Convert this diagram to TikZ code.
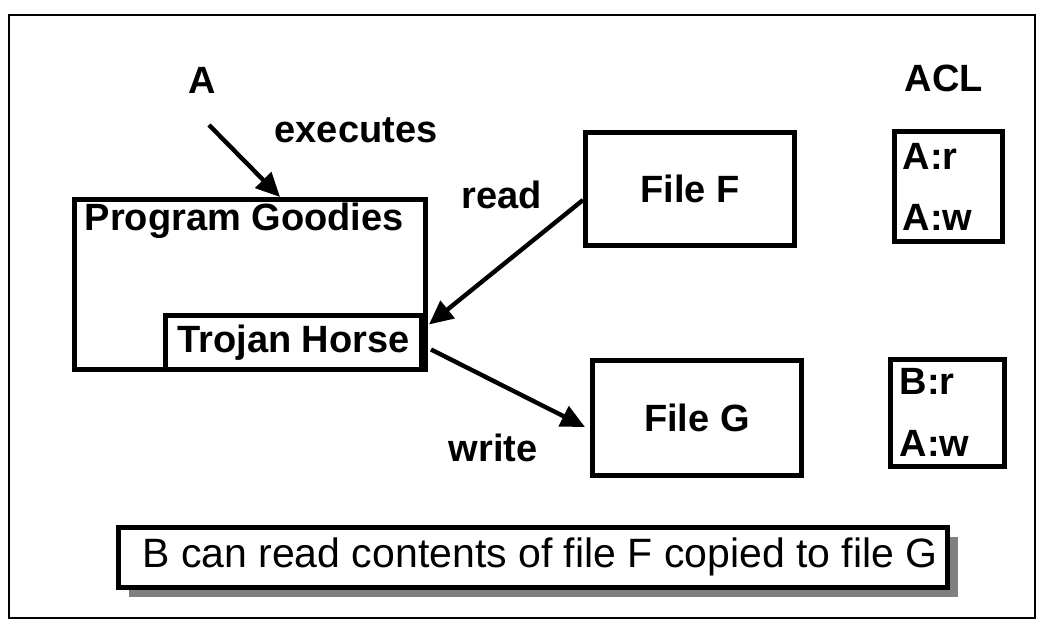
\documentclass[tikz,border=0pt]{standalone}
\usepackage{fontspec}
\setmainfont{Liberation Sans}
\usetikzlibrary{arrows.meta,shadows}

\begin{document}
\begin{tikzpicture}[x=0.5pt,y=-0.5pt,thick,
    bigfont/.style={font=\fontsize{19}{22}\selectfont\bfseries},
    word/.style={bigfont,inner sep=0pt},
    box/.style={draw,line width=2.5pt,inner sep=0pt},
    arr/.style={line width=2.2pt,-{Triangle[length=12pt,width=11pt]}}]
          %frame
          \useasboundingbox (0,0) rectangle (1046,630);
          \draw[line width=1pt] (9,15) rectangle (1035,618);

          %program and trojan horse
          \node[box,minimum width=175.5pt,minimum height=85pt] (goodies) at (250,284.5) {};
          \node[word,anchor=west] (goodiesText) at (84,221) {Program Goodies};
          \node[box,fill=white,minimum width=128pt,minimum height=27pt,bigfont] (trojan) at (293.5,342.5) {Trojan Horse};

          %files
          \node[box,minimum width=104.5pt,minimum height=56.5pt,bigfont] (fileF) at (690,189) {File F};
          \node[box,minimum width=104.5pt,minimum height=57.5pt,bigfont] (fileG) at (697,418) {File G};

          %acl
          \node[word] (acl) at (944,78) {ACL};
          \node[box,minimum width=54pt,minimum height=55pt] (aclF) at (948.5,186.5) {};
          \node[word,anchor=west] (aclFr) at (902,156) {A:r};
          \node[word,anchor=west] (aclFw) at (902,217) {A:w};
          \node[box,minimum width=57pt,minimum height=53.5pt] (aclG) at (947.5,413) {};
          \node[word,anchor=west] (aclGr) at (899,381) {B:r};
          \node[word,anchor=west] (aclGw) at (899,443) {A:w};

          %user A
          \node[word] (userA) at (202,80) {A};
          \coordinate (execStart) at (209,125);
          \node[word] (executes) at (356,130) {executes};
          \draw[arr] (execStart) -- ([xshift=15pt]goodies.north);

          %read and write
          \node[word] (read) at (502,195) {read};
          \node[word] (write) at (493,448) {write};
          \draw[arr] ([yshift=-5.5pt]fileF.west) -- ([xshift=2.5pt,yshift=9pt]trojan.east);
          \draw[arr] ([xshift=3.5pt,yshift=-3.5pt]trojan.east) -- ([xshift=-2.5pt,yshift=-4.5pt]fileG.west);

          %note
          \node[box,fill=white,minimum width=414.5pt,minimum height=30pt,
                drop shadow={shadow xshift=5pt,shadow yshift=-5pt,fill=gray,opacity=1}] (note) at (533,557.5) {};
          \node[inner sep=0pt,font=\fontsize{20.5}{24}\selectfont] (noteText) at (540,557) {B can read contents of file F copied to file G};
          \end{tikzpicture}
\end{document}
